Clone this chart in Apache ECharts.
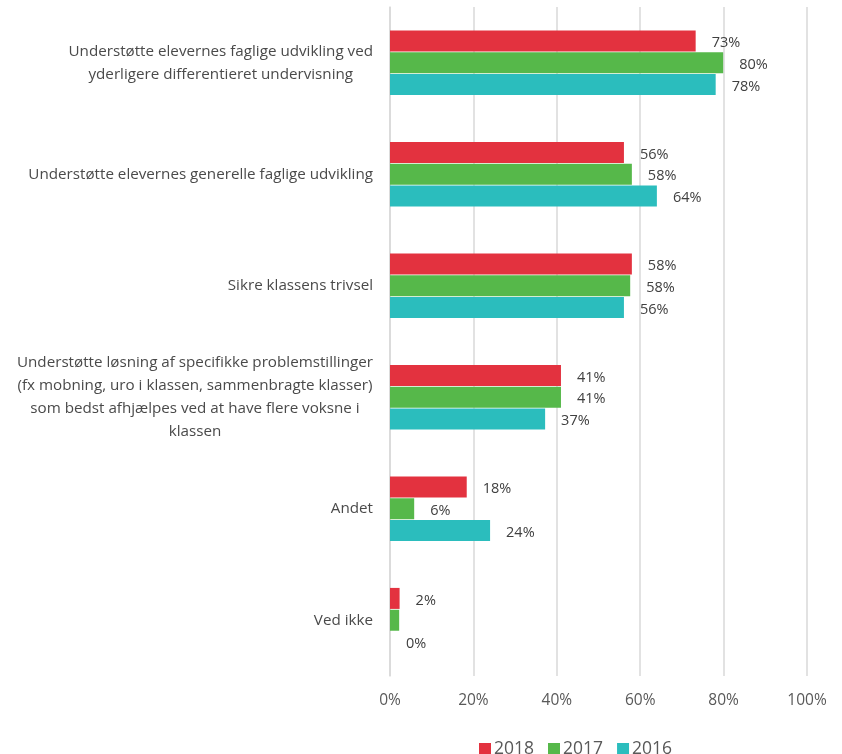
<!DOCTYPE html>
<html>
<head>
<meta charset="utf-8">
<script src="https://cdn.jsdelivr.net/npm/echarts@6/dist/echarts.min.js"></script>
<style>html,body{margin:0;padding:0;background:#fff}#c{width:842px;height:754px}</style>
</head>
<body>
<div id="c"></div>
<script>
var categories = [
  "Understøtte elevernes faglige udvikling ved\nyderligere differentieret undervisning",
  "Understøtte elevernes generelle faglige udvikling",
  "Sikre klassens trivsel",
  "Understøtte løsning af specifikke problemstillinger\n(fx mobning, uro i klassen, sammenbragte klasser)\nsom bedst afhjælpes ved at have flere voksne i\nklassen",
  "Andet",
  "Ved ikke"
];
var seriesNames = ["2018", "2017", "2016"];
var values2018 = [73.3, 56.1, 58.0, 41.0, 18.4, 2.3];
var values2017 = [79.9, 58.0, 57.6, 41.0, 5.8, 2.2];
var values2016 = [78.1, 64.0, 56.1, 37.2, 24.0, 0];
var hiddenLabels2017 = [5];
var xTicks = [0, 20, 40, 60, 80, 100];

var colors = ["#E3323F", "#56B84A", "#2BBDBD"];
var FONT = "Open Sans";

function mkSeries(name, vals, idx, hidden) {
  return {
    name: name,
    type: 'bar',
    barWidth: 21,
    barGap: '4%',
    data: vals.map(function (v, i) {
      var d = { value: v };
      if (hidden && hidden.indexOf(i) >= 0) d.label = { show: false };
      return d;
    }),
    itemStyle: { color: colors[idx] },
    label: {
      show: true, position: 'right', distance: 16,
      fontFamily: FONT, fontSize: 14.5, color: '#404040',
      offset: [0, 2],
      formatter: function (p) { return Math.round(p.value) + '%'; }
    }
  };
}

var chart = echarts.init(document.getElementById('c'));
chart.setOption({
  animation: false,
  textStyle: { fontFamily: FONT },
  grid: { left: 390, right: 35, top: 7, bottom: 78, containLabel: false },
  legend: {
    data: seriesNames, left: 474, top: 735,
    icon: 'rect', itemWidth: 12, itemHeight: 12, itemGap: 14,
    textStyle: { fontFamily: FONT, fontSize: 17.5, color: '#595959', padding: [0, 0, 0, -2] }
  },
  xAxis: {
    type: 'value', min: xTicks[0], max: xTicks[xTicks.length - 1], interval: 20,
    axisLine: { show: false }, axisTick: { show: false },
    splitLine: { lineStyle: { color: '#D9D9D9', width: 1.5 } },
    axisLabel: { fontFamily: FONT, fontSize: 15.5, color: '#595959', margin: 17, formatter: '{value}%' }
  },
  yAxis: {
    type: 'category', inverse: true, data: categories,
    axisLine: { show: true, lineStyle: { color: '#D9D9D9', width: 1.5 } },
    axisTick: { show: false },
    axisLabel: {
      margin: 17, fontFamily: FONT, fontSize: 15.2, color: '#4A4A4A', lineHeight: 23,
      formatter: function (v) { return v.split('\n').map(function (l) { return '{c|' + l + '}'; }).join('\n'); },
      rich: { c: { align: 'center', fontFamily: FONT, fontSize: 15.2, color: '#4A4A4A', lineHeight: 23 } }
    }
  },
  series: [
    mkSeries(seriesNames[0], values2018, 0),
    mkSeries(seriesNames[1], values2017, 1, hiddenLabels2017),
    mkSeries(seriesNames[2], values2016, 2)
  ]
});
</script>
</body>
</html>
